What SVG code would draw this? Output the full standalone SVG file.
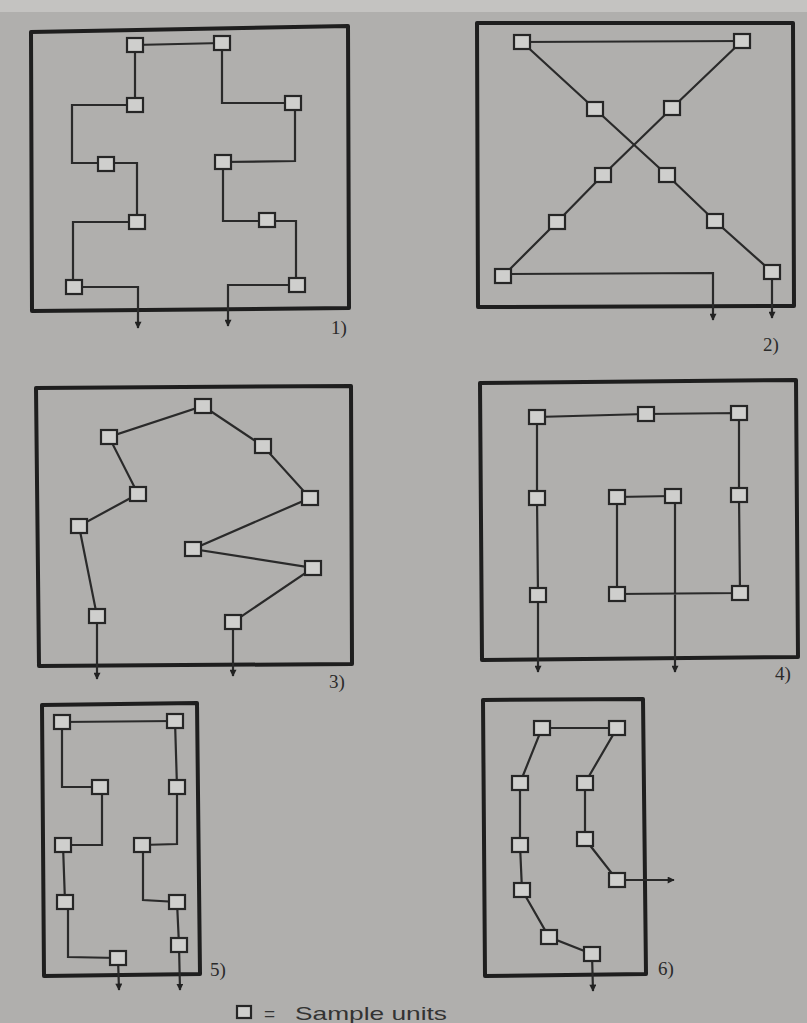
<svg xmlns="http://www.w3.org/2000/svg" width="807" height="1023" viewBox="0 0 807 1023">
<defs>
<marker id="arr" viewBox="0 0 10 10" refX="9" refY="5" markerWidth="8" markerHeight="7" orient="auto-start-reverse" markerUnits="userSpaceOnUse">
<path d="M0,0 L10,5 L0,10 Z" fill="#222"/>
</marker>
<style>
.frame{fill:none;stroke:#1e1e1e;stroke-width:4;stroke-linejoin:round}
.c{fill:none;stroke:#2a2a2a;stroke-width:2.2;stroke-linejoin:miter}
.n{fill:#cfcfcd;stroke:#262626;stroke-width:2.2}
.lbl{font-family:"Liberation Serif","DejaVu Serif",serif;font-size:19px;fill:#2a2a2a}
.leg{font-family:"Liberation Sans","DejaVu Sans",sans-serif;font-size:19px;fill:#333}
</style>
</defs>
<rect x="0" y="0" width="807" height="1023" fill="#b0afad"/>
<rect x="0" y="0" width="807" height="12" fill="#c4c3c1"/>

<g id="frames">
<polygon class="frame" points="31,32 348,26 349,308 32,311"/>
<polygon class="frame" points="477,23 793,23 794,306 478,307"/>
<polygon class="frame" points="36,388 351,386 352,664 39,666"/>
<polygon class="frame" points="480,383 796,380 798,657 482,660"/>
<polygon class="frame" points="42,705 197,703 200,974 44,976"/>
<polygon class="frame" points="483,700 643,699 646,974 485,976"/>
</g>

<g id="connectors">
<!-- panel 1 -->
<polyline class="c" points="222,43 135,45 135,105 72,105 72,163 137,163 137,222 73,222 73,287 138,287 138,328" marker-end="url(#arr)"/>
<polyline class="c" points="222,43 222,103 293,103 295,103 295,161 223,162 223,221 296,221 296,285 228,285 228,326" marker-end="url(#arr)"/>
<!-- panel 2 -->
<polyline class="c" points="522,42 742,41"/>
<polyline class="c" points="522,42 595,109 667,175 715,221 772,272 772,318" marker-end="url(#arr)"/>
<polyline class="c" points="742,41 672,108 603,175 557,222 503,276"/>
<polyline class="c" points="503,274 713,273 713,320" marker-end="url(#arr)"/>
<!-- panel 3 -->
<polyline class="c" points="97,679 97,616 79,526 138,494 109,437 203,406 263,446 310,498 193,549 313,568 233,622 233,676" marker-start="url(#arr)" marker-end="url(#arr)"/>
<!-- panel 4 -->
<polyline class="c" points="538,672 538,595 537,498 537,417 646,414 739,413 739,495 740,593 617,594 617,497 673,496 675,496 675,672" marker-start="url(#arr)" marker-end="url(#arr)"/>
<!-- panel 5 -->
<polyline class="c" points="62,722 175,721"/>
<polyline class="c" points="62,722 62,787 100,787 102,787 102,845 63,845 65,902 68,902 68,957 118,958 119,990" marker-end="url(#arr)"/>
<polyline class="c" points="175,721 177,787 177,844 142,845 143,845 143,900 177,902 179,945 180,990" marker-end="url(#arr)"/>
<!-- panel 6 -->
<polyline class="c" points="674,880 617,880 585,839 585,783 617,728 542,728 520,783 520,845 522,890 549,937 592,954 593,991" marker-start="url(#arr)" marker-end="url(#arr)"/>
</g>

<g id="panel1">
<g id="n1-1"><rect class="n" x="127" y="38" width="16" height="14"/></g>
<g id="n1-2"><rect class="n" x="214" y="36" width="16" height="14"/></g>
<g id="n1-3"><rect class="n" x="127" y="98" width="16" height="14"/></g>
<g id="n1-4"><rect class="n" x="285" y="96" width="16" height="14"/></g>
<g id="n1-5"><rect class="n" x="98" y="157" width="16" height="14"/></g>
<g id="n1-6"><rect class="n" x="215" y="155" width="16" height="14"/></g>
<g id="n1-7"><rect class="n" x="129" y="215" width="16" height="14"/></g>
<g id="n1-8"><rect class="n" x="259" y="213" width="16" height="14"/></g>
<g id="n1-9"><rect class="n" x="66" y="280" width="16" height="14"/></g>
<g id="n1-10"><rect class="n" x="289" y="278" width="16" height="14"/></g>
<text class="lbl" x="331" y="334">1)</text>
</g>

<g id="panel2">
<g id="n2-1"><rect class="n" x="514" y="35" width="16" height="14"/></g>
<g id="n2-2"><rect class="n" x="734" y="34" width="16" height="14"/></g>
<g id="n2-3"><rect class="n" x="587" y="102" width="16" height="14"/></g>
<g id="n2-4"><rect class="n" x="664" y="101" width="16" height="14"/></g>
<g id="n2-5"><rect class="n" x="595" y="168" width="16" height="14"/></g>
<g id="n2-6"><rect class="n" x="659" y="168" width="16" height="14"/></g>
<g id="n2-7"><rect class="n" x="549" y="215" width="16" height="14"/></g>
<g id="n2-8"><rect class="n" x="707" y="214" width="16" height="14"/></g>
<g id="n2-9"><rect class="n" x="495" y="269" width="16" height="14"/></g>
<g id="n2-10"><rect class="n" x="764" y="265" width="16" height="14"/></g>
<text class="lbl" x="763" y="351">2)</text>
</g>

<g id="panel3">
<g id="n3-1"><rect class="n" x="195" y="399" width="16" height="14"/></g>
<g id="n3-2"><rect class="n" x="101" y="430" width="16" height="14"/></g>
<g id="n3-3"><rect class="n" x="255" y="439" width="16" height="14"/></g>
<g id="n3-4"><rect class="n" x="130" y="487" width="16" height="14"/></g>
<g id="n3-5"><rect class="n" x="302" y="491" width="16" height="14"/></g>
<g id="n3-6"><rect class="n" x="71" y="519" width="16" height="14"/></g>
<g id="n3-7"><rect class="n" x="185" y="542" width="16" height="14"/></g>
<g id="n3-8"><rect class="n" x="305" y="561" width="16" height="14"/></g>
<g id="n3-9"><rect class="n" x="89" y="609" width="16" height="14"/></g>
<g id="n3-10"><rect class="n" x="225" y="615" width="16" height="14"/></g>
<text class="lbl" x="329" y="688">3)</text>
</g>

<g id="panel4">
<g id="n4-1"><rect class="n" x="529" y="410" width="16" height="14"/></g>
<g id="n4-2"><rect class="n" x="638" y="407" width="16" height="14"/></g>
<g id="n4-3"><rect class="n" x="731" y="406" width="16" height="14"/></g>
<g id="n4-4"><rect class="n" x="529" y="491" width="16" height="14"/></g>
<g id="n4-5"><rect class="n" x="609" y="490" width="16" height="14"/></g>
<g id="n4-6"><rect class="n" x="665" y="489" width="16" height="14"/></g>
<g id="n4-7"><rect class="n" x="731" y="488" width="16" height="14"/></g>
<g id="n4-8"><rect class="n" x="530" y="588" width="16" height="14"/></g>
<g id="n4-9"><rect class="n" x="609" y="587" width="16" height="14"/></g>
<g id="n4-10"><rect class="n" x="732" y="586" width="16" height="14"/></g>
<text class="lbl" x="775" y="680">4)</text>
</g>

<g id="panel5">
<g id="n5-1"><rect class="n" x="54" y="715" width="16" height="14"/></g>
<g id="n5-2"><rect class="n" x="167" y="714" width="16" height="14"/></g>
<g id="n5-3"><rect class="n" x="92" y="780" width="16" height="14"/></g>
<g id="n5-4"><rect class="n" x="169" y="780" width="16" height="14"/></g>
<g id="n5-5"><rect class="n" x="55" y="838" width="16" height="14"/></g>
<g id="n5-6"><rect class="n" x="134" y="838" width="16" height="14"/></g>
<g id="n5-7"><rect class="n" x="57" y="895" width="16" height="14"/></g>
<g id="n5-8"><rect class="n" x="169" y="895" width="16" height="14"/></g>
<g id="n5-9"><rect class="n" x="171" y="938" width="16" height="14"/></g>
<g id="n5-10"><rect class="n" x="110" y="951" width="16" height="14"/></g>
<text class="lbl" x="210" y="976">5)</text>
</g>

<g id="panel6">
<g id="n6-1"><rect class="n" x="534" y="721" width="16" height="14"/></g>
<g id="n6-2"><rect class="n" x="609" y="721" width="16" height="14"/></g>
<g id="n6-3"><rect class="n" x="512" y="776" width="16" height="14"/></g>
<g id="n6-4"><rect class="n" x="577" y="776" width="16" height="14"/></g>
<g id="n6-5"><rect class="n" x="512" y="838" width="16" height="14"/></g>
<g id="n6-6"><rect class="n" x="577" y="832" width="16" height="14"/></g>
<g id="n6-7"><rect class="n" x="514" y="883" width="16" height="14"/></g>
<g id="n6-8"><rect class="n" x="609" y="873" width="16" height="14"/></g>
<g id="n6-9"><rect class="n" x="541" y="930" width="16" height="14"/></g>
<g id="n6-10"><rect class="n" x="584" y="947" width="16" height="14"/></g>
<text class="lbl" x="658" y="975">6)</text>
</g>

<g id="legend">
<rect class="n" x="237" y="1006" width="14" height="12"/>
<text class="leg" x="264" y="1020" font-size="22">=</text>
<text class="leg" x="295" y="1020" textLength="152" lengthAdjust="spacingAndGlyphs">Sample units</text>
</g>
</svg>
